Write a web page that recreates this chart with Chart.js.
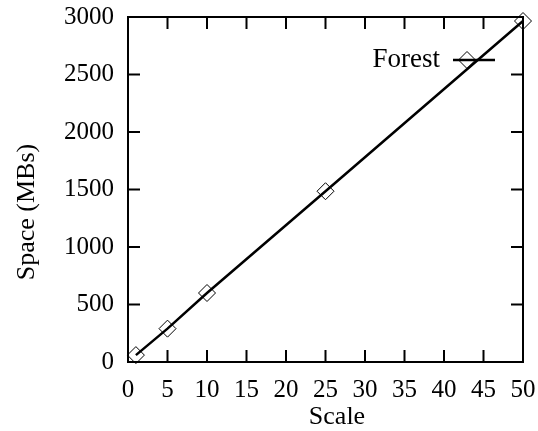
<!DOCTYPE html>
<html>
<head>
<meta charset="utf-8">
<script src="https://cdn.jsdelivr.net/npm/chart.js@4.4.1/dist/chart.umd.min.js"></script>
<style>
  html, body { margin: 0; padding: 0; background: #fff; }
  #wrap { width: 538px; height: 431px; }
</style>
</head>
<body>
<div id="wrap"><canvas id="c" width="538" height="431"></canvas></div>
<script>
const scales = [1, 5, 10, 25, 50];
const spaceMB = [60, 290, 600, 1485, 2965];
const xTicks = [0, 5, 10, 15, 20, 25, 30, 35, 40, 45, 50];
const yTicks = [0, 500, 1000, 1500, 2000, 2500, 3000];
const seriesName = "Forest";
const xTitle = "Scale";
const yTitle = "Space (MBs)";

const FONT = "'Liberation Serif', 'Times New Roman', serif";

// gnuplot-ish frame: border, inward ticks mirrored on all sides, key, axis labels
const framePlugin = {
  id: "frame",
  afterDraw(chart) {
    const { ctx, chartArea: a } = chart;
    const xs = chart.scales.x, ys = chart.scales.y;
    const tl = 12;
    ctx.save();
    ctx.strokeStyle = "#000";
    ctx.lineWidth = 2;
    ctx.beginPath();
    xTicks.forEach(v => {
      const px = xs.getPixelForValue(v);
      ctx.moveTo(px, a.bottom); ctx.lineTo(px, a.bottom - tl);
      ctx.moveTo(px, a.top); ctx.lineTo(px, a.top + tl);
    });
    yTicks.forEach(v => {
      const py = ys.getPixelForValue(v);
      ctx.moveTo(a.left, py); ctx.lineTo(a.left + tl, py);
      ctx.moveTo(a.right, py); ctx.lineTo(a.right - tl, py);
    });
    ctx.stroke();
    ctx.strokeRect(a.left, a.top, a.right - a.left, a.bottom - a.top);

    ctx.fillStyle = "#000";

    // axis labels (gnuplot puts them slightly off-centre)
    ctx.font = "26px " + FONT;
    ctx.textAlign = "center";
    ctx.textBaseline = "alphabetic";
    ctx.fillText(xTitle, 337, 424);
    ctx.save();
    ctx.translate(34, 212);
    ctx.rotate(-Math.PI / 2);
    ctx.fillText(yTitle, 0, 0);
    ctx.restore();

    // key
    const ky = a.top + 43;
    ctx.font = "27px " + FONT;
    ctx.textAlign = "right";
    ctx.textBaseline = "middle";
    ctx.fillText(seriesName, a.right - 83, ky);
    ctx.lineWidth = 2.5;
    ctx.beginPath();
    ctx.moveTo(a.right - 70, ky); ctx.lineTo(a.right - 28, ky);
    ctx.stroke();
    ctx.lineWidth = 1;
    const cx = a.right - 56, r = 8.5;
    ctx.beginPath();
    ctx.moveTo(cx, ky - r); ctx.lineTo(cx + r, ky);
    ctx.lineTo(cx, ky + r); ctx.lineTo(cx - r, ky);
    ctx.closePath();
    ctx.stroke();
    ctx.restore();
  }
};

new Chart(document.getElementById("c"), {
  type: "line",
  data: {
    datasets: [{
      label: seriesName,
      data: scales.map((s, i) => ({ x: s, y: spaceMB[i] })),
      borderColor: "#000",
      borderWidth: 2.5,
      backgroundColor: "rgba(0,0,0,0)",
      pointStyle: "rectRot",
      pointRadius: 8.5,
      pointBorderWidth: 1,
      pointBorderColor: "#000",
      pointBackgroundColor: "rgba(0,0,0,0)",
      tension: 0,
      clip: false
    }]
  },
  options: {
    responsive: false,
    animation: false,
    layout: { padding: { left: 12, top: 17, right: 15, bottom: 0 } },
    plugins: { legend: { display: false }, tooltip: { enabled: false } },
    scales: {
      x: {
        type: "linear",
        min: 0, max: 50,
        afterBuildTicks: s => { s.ticks = xTicks.map(v => ({ value: v })); },
        afterFit: s => { s.height = 69; s.paddingLeft = 0; s.paddingRight = 0; },
        grid: { display: false, drawTicks: false },
        border: { display: false },
        ticks: { color: "#000", padding: 13, maxRotation: 0, font: { family: FONT, size: 25 }, callback: v => String(v) }
      },
      y: {
        min: 0, max: 3000,
        afterBuildTicks: s => { s.ticks = yTicks.map(v => ({ value: v })); },
        afterFit: s => { s.width = 116; s.paddingTop = 0; s.paddingBottom = 0; },
        grid: { display: false, drawTicks: false },
        border: { display: false },
        ticks: { color: "#000", padding: 14, font: { family: FONT, size: 25 }, callback: v => String(v) }
      }
    }
  },
  plugins: [framePlugin]
});
</script>
</body>
</html>
